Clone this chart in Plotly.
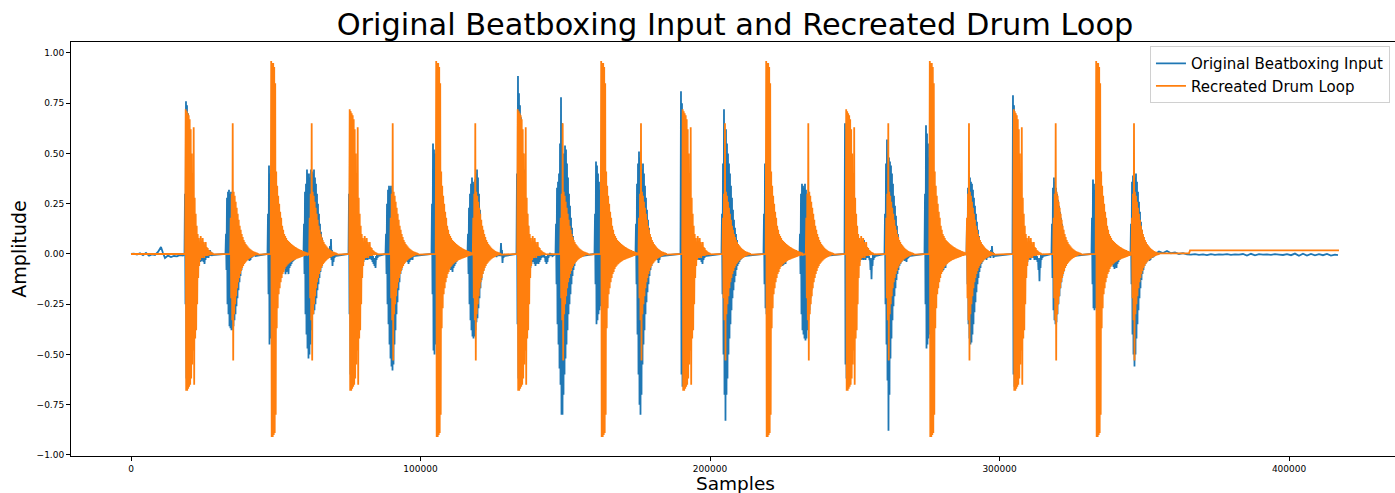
import plotly.graph_objects as go

# ---------------- data (amplitude vs. sample index) ----------------
STEP = 345.4      # samples between successive envelope readings
SILENCE = 0.0     # level of the signal just before each onset

# Recreated drum loop: onsets (samples) of the three drum sounds
KICK_ONSETS = [48430, 105420, 162410, 219400, 275910, 333380]          # big hits
MID_ONSETS = [18890, 75540, 133570, 190560, 247030, 304920]           # double-spike hits
SNARE_ONSETS = [34440, 61720, 89700, 118230, 148420, 175460,
                204480, 233250, 260880, 288750, 318700, 345750]       # thin-spike hits

# envelope readings (top, bottom) of each drum sound, one pair per step
KICK_ENV = [(0.96, -0.91), (0.95, -0.91), (0.95, -0.90), (0.93, -0.89), (0.85, -0.80),
            (0.41, -0.37), (0.34, -0.27), (0.29, -0.20), (0.25, -0.17), (0.21, -0.14),
            (0.18, -0.12), (0.14, -0.10), (0.12, -0.09), (0.10, -0.075), (0.09, -0.065),
            (0.08, -0.058), (0.07, -0.052), (0.065, -0.048), (0.06, -0.043), (0.055, -0.04),
            (0.05, -0.036), (0.046, -0.033), (0.042, -0.03), (0.038, -0.028), (0.035, -0.026),
            (0.032, -0.024), (0.029, -0.022), (0.026, -0.02), (0.023, -0.018), (0.021, -0.016),
            (0.019, -0.014), (0.016, -0.012), (0.014, -0.01), (0.012, -0.009), (0.01, -0.007),
            (0.008, -0.006), (0.006, -0.004)]
MID_ENV = [(0.72, -0.68), (0.71, -0.68), (0.70, -0.67), (0.69, -0.66), (0.67, -0.65),
           (0.62, -0.62), (0.50, -0.55), (0.40, -0.48), (0.63, -0.65), (0.28, -0.42),
           (0.20, -0.38), (0.14, -0.25), (0.10, -0.12), (0.08, -0.06), (0.06, -0.03),
           (0.09, -0.02), (0.05, -0.02), (0.08, -0.01), (0.06, -0.02), (0.04, -0.01),
           (0.06, -0.01), (0.035, -0.01), (0.03, -0.008), (0.02, -0.006), (0.015, -0.005),
           (0.01, -0.004), (0.008, -0.003), (0.005, -0.002)]
SNARE_ENV = [(0.18, -0.22), (0.30, -0.33), (0.65, -0.53), (0.31, -0.30), (0.29, -0.25),
             (0.26, -0.21), (0.23, -0.17), (0.20, -0.14), (0.17, -0.12), (0.14, -0.10),
             (0.12, -0.085), (0.10, -0.07), (0.085, -0.06), (0.07, -0.05), (0.06, -0.043),
             (0.05, -0.037), (0.043, -0.032), (0.037, -0.027), (0.031, -0.023), (0.026, -0.02),
             (0.022, -0.017), (0.018, -0.014), (0.015, -0.011), (0.012, -0.009), (0.01, -0.007),
             (0.008, -0.005), (0.006, -0.004), (0.004, -0.003)]
# quiet end of the drum loop
DRUM_TAIL_X = [355000, 365440, 365790, 417240]
DRUM_TAIL_Y = [0.003, 0.003, 0.018, 0.018]

# Original beatboxing input
BEAT_INTRO_X = [0, 1040, 2070, 3110, 4140, 5180, 6220, 7250, 8290, 9330, 10360,
                11050, 11740, 12780, 13820, 14850, 15890, 16930, 17960]
BEAT_INTRO_Y = [0.0, 0.002, -0.003, 0.004, -0.006, 0.005, -0.008, -0.002, -0.005, 0.01,
                0.035, 0.005, -0.02, -0.008, -0.015, -0.01, -0.012, -0.005, -0.008]

BEAT_ONSETS = [18650, 32810, 47320, 59750, 75300, 88080, 103970, 116400, 133320, 146800,
               160270, 174430, 189970, 204130, 218640, 231070, 246620, 260430, 274250,
               288750, 304640, 318110, 331930, 345400]
BEAT_ENVS = [
    [(0.30, -0.25), (0.76, -0.62), (0.74, -0.66), (0.70, -0.65), (0.62, -0.60), (0.55, -0.55),
     (0.45, -0.45), (0.35, -0.35), (0.25, -0.25), (0.18, -0.18), (0.12, -0.12), (0.08, -0.08),
     (0.05, -0.05), (0.03, -0.04), (0.02, -0.03), (0.01, -0.04), (0.0, -0.035), (0.0, -0.02),
     (0.01, -0.04), (0.0, -0.05), (-0.01, -0.03), (0.01, -0.02), (0.0, -0.015), (0.005, -0.02),
     (0.01, -0.01), (0.02, -0.01), (0.01, -0.01), (0.005, -0.005)],
    [(0.10, -0.08), (0.28, -0.25), (0.31, -0.30), (0.32, -0.36), (0.30, -0.37), (0.31, -0.38),
     (0.29, -0.38), (0.30, -0.36), (0.27, -0.33), (0.25, -0.30), (0.22, -0.26), (0.19, -0.22),
     (0.16, -0.18), (0.13, -0.14), (0.10, -0.11), (0.08, -0.08), (0.06, -0.06), (0.04, -0.045),
     (0.03, -0.04), (0.02, -0.035), (0.01, -0.03), (0.0, -0.02), (-0.005, -0.03), (-0.01, -0.035),
     (-0.01, -0.03), (-0.005, -0.02), (0.0, -0.015), (0.0, -0.01), (0.005, -0.01), (0.0, -0.01)],
    [(0.20, -0.20), (0.44, -0.45), (0.40, -0.42), (0.42, -0.40), (0.38, -0.36), (0.33, -0.32),
     (0.28, -0.28), (0.22, -0.22), (0.17, -0.17), (0.12, -0.13), (0.08, -0.09), (0.05, -0.06),
     (0.03, -0.04), (0.02, -0.03), (0.01, -0.03), (0.0, -0.04), (-0.02, -0.07), (-0.04, -0.10),
     (-0.05, -0.09), (-0.03, -0.08), (-0.04, -0.10), (-0.03, -0.07), (-0.02, -0.06), (-0.02, -0.05),
     (-0.015, -0.04), (-0.01, -0.035), (-0.01, -0.03), (-0.005, -0.02), (-0.005, -0.015),
     (0.0, -0.01), (0.0, -0.005)],
    [(0.15, -0.10), (0.31, -0.30), (0.35, -0.40), (0.42, -0.47), (0.40, -0.52), (0.40, -0.50),
     (0.38, -0.45), (0.42, -0.38), (0.41, -0.30), (0.40, -0.30), (0.42, -0.28), (0.38, -0.25),
     (0.35, -0.22), (0.30, -0.18), (0.25, -0.15), (0.20, -0.12), (0.15, -0.09), (0.11, -0.07),
     (0.08, -0.05), (0.05, -0.04), (0.03, -0.03), (0.02, -0.02), (0.01, -0.02), (0.005, -0.015),
     (0.0, -0.01), (0.01, -0.01), (0.04, -0.02), (0.075, -0.03), (0.02, -0.06), (0.0, -0.04),
     (0.0, -0.02), (0.0, -0.01)],
    [(0.30, -0.30), (0.71, -0.60), (0.68, -0.65), (0.65, -0.62), (0.58, -0.58), (0.50, -0.50),
     (0.42, -0.42), (0.34, -0.36), (0.27, -0.30), (0.20, -0.22), (0.14, -0.15), (0.10, -0.10),
     (0.07, -0.07), (0.05, -0.05), (0.03, -0.04), (0.02, -0.03), (0.01, -0.03), (0.0, -0.025),
     (0.0, -0.03), (0.01, -0.02), (-0.005, -0.025), (0.0, -0.02), (0.0, -0.03), (0.0, -0.04),
     (-0.01, -0.05), (-0.02, -0.06), (-0.02, -0.07), (-0.01, -0.03), (0.0, -0.02), (0.0, -0.01)],
    [(0.10, -0.10), (0.25, -0.25), (0.32, -0.35), (0.34, -0.45), (0.33, -0.52), (0.34, -0.56),
     (0.32, -0.58), (0.30, -0.55), (0.28, -0.45), (0.25, -0.38), (0.22, -0.30), (0.19, -0.24),
     (0.16, -0.18), (0.13, -0.14), (0.10, -0.10), (0.08, -0.08), (0.06, -0.06), (0.04, -0.05),
     (0.03, -0.04), (0.02, -0.03), (0.01, -0.03), (0.0, -0.04), (-0.01, -0.05), (-0.02, -0.04),
     (-0.01, -0.03), (0.0, -0.02), (0.0, -0.03), (0.0, -0.01)],
    [(0.25, -0.20), (0.55, -0.48), (0.52, -0.50), (0.50, -0.45), (0.45, -0.42), (0.40, -0.38),
     (0.34, -0.33), (0.28, -0.28), (0.22, -0.22), (0.17, -0.17), (0.13, -0.13), (0.09, -0.10),
     (0.06, -0.07), (0.04, -0.05), (0.03, -0.04), (0.02, -0.04), (0.01, -0.05), (0.0, -0.06),
     (-0.02, -0.08), (-0.03, -0.07), (-0.04, -0.09), (-0.03, -0.07), (-0.02, -0.06), (-0.02, -0.05),
     (-0.01, -0.04), (-0.01, -0.03), (0.0, -0.02), (0.0, -0.01)],
    [(0.10, -0.10), (0.23, -0.25), (0.30, -0.33), (0.35, -0.38), (0.38, -0.41), (0.36, -0.42),
     (0.35, -0.41), (0.37, -0.38), (0.40, -0.34), (0.42, -0.32), (0.38, -0.27), (0.30, -0.22),
     (0.22, -0.17), (0.16, -0.13), (0.12, -0.10), (0.09, -0.08), (0.06, -0.06), (0.04, -0.05),
     (0.03, -0.04), (0.02, -0.03), (0.01, -0.02), (0.0, -0.02), (-0.005, -0.015), (0.0, -0.01),
     (0.0, -0.015), (0.005, -0.01), (0.0, -0.01), (0.0, -0.01), (0.0, -0.015), (0.0, -0.01),
     (0.0, -0.01), (0.005, -0.005), (0.0, -0.01), (0.055, -0.01), (0.02, -0.045), (0.0, -0.02),
     (0.0, -0.01)],
    [(0.40, -0.35), (0.885, -0.62), (0.80, -0.66), (0.74, -0.65), (0.68, -0.62), (0.60, -0.58),
     (0.50, -0.50), (0.42, -0.43), (0.34, -0.36), (0.27, -0.30), (0.20, -0.22), (0.14, -0.15),
     (0.10, -0.10), (0.07, -0.07), (0.05, -0.05), (0.03, -0.04), (0.02, -0.04), (0.01, -0.05),
     (0.0, -0.06), (-0.01, -0.05), (-0.01, -0.04), (0.0, -0.05), (-0.01, -0.04), (0.0, -0.03),
     (0.0, -0.02), (0.0, -0.015), (0.0, -0.01), (0.0, -0.02), (-0.01, -0.04), (-0.02, -0.05),
     (-0.01, -0.04), (0.0, -0.02), (0.0, -0.01), (0.005, -0.01), (0.0, -0.005), (0.0, -0.01)],
    [(0.15, -0.15), (0.33, -0.35), (0.36, -0.45), (0.40, -0.57), (0.55, -0.65), (0.78, -0.80),
     (0.65, -0.80), (0.50, -0.70), (0.50, -0.60), (0.54, -0.52), (0.52, -0.45), (0.45, -0.38),
     (0.38, -0.30), (0.30, -0.25), (0.24, -0.20), (0.18, -0.15), (0.13, -0.11), (0.09, -0.08),
     (0.06, -0.06), (0.04, -0.04), (0.03, -0.03), (0.02, -0.025), (0.01, -0.02), (0.0, -0.02),
     (0.0, -0.015), (0.0, -0.01)],
    [(0.20, -0.15), (0.46, -0.35), (0.44, -0.33), (0.40, -0.30), (0.36, -0.28), (0.32, -0.26),
     (0.28, -0.24), (0.24, -0.20), (0.20, -0.17), (0.16, -0.14), (0.13, -0.11), (0.10, -0.09),
     (0.08, -0.07), (0.06, -0.06), (0.04, -0.05), (0.03, -0.04), (0.02, -0.035), (0.01, -0.03),
     (0.0, -0.04), (-0.01, -0.05), (-0.02, -0.045), (-0.01, -0.04), (-0.02, -0.05), (-0.01, -0.035),
     (0.0, -0.03), (0.0, -0.02), (0.0, -0.015), (0.0, -0.01)],
    [(0.15, -0.15), (0.35, -0.40), (0.45, -0.60), (0.51, -0.75), (0.48, -0.80), (0.45, -0.70),
     (0.42, -0.55), (0.45, -0.45), (0.40, -0.38), (0.34, -0.30), (0.28, -0.24), (0.22, -0.19),
     (0.17, -0.15), (0.13, -0.11), (0.09, -0.08), (0.06, -0.06), (0.04, -0.045), (0.03, -0.035),
     (0.02, -0.03), (0.01, -0.025), (0.0, -0.02), (0.0, -0.03), (-0.01, -0.045), (-0.005, -0.03),
     (0.0, -0.015), (0.0, -0.01)],
    [(0.81, -0.60), (0.75, -0.66), (0.70, -0.65), (0.64, -0.62), (0.57, -0.58), (0.49, -0.50),
     (0.41, -0.42), (0.33, -0.35), (0.26, -0.28), (0.20, -0.21), (0.14, -0.15), (0.10, -0.10),
     (0.07, -0.07), (0.05, -0.05), (0.03, -0.04), (0.02, -0.03), (0.01, -0.03), (0.0, -0.02),
     (0.005, -0.03), (0.0, -0.02), (0.0, -0.04), (-0.01, -0.05), (0.0, -0.03), (0.0, -0.02),
     (0.0, -0.01)],
    [(0.20, -0.20), (0.45, -0.50), (0.72, -0.70), (0.62, -0.83), (0.62, -0.70), (0.55, -0.62),
     (0.50, -0.50), (0.45, -0.42), (0.40, -0.35), (0.34, -0.28), (0.28, -0.22), (0.22, -0.18),
     (0.17, -0.14), (0.13, -0.11), (0.10, -0.08), (0.07, -0.06), (0.05, -0.05), (0.03, -0.04),
     (0.02, -0.03), (0.01, -0.025), (0.0, -0.02), (0.0, -0.015), (0.0, -0.01)],
    [(0.20, -0.15), (0.45, -0.27), (0.42, -0.30), (0.38, -0.30), (0.33, -0.28), (0.28, -0.25),
     (0.24, -0.22), (0.20, -0.19), (0.16, -0.15), (0.13, -0.12), (0.10, -0.10), (0.08, -0.08),
     (0.06, -0.06), (0.04, -0.05), (0.03, -0.045), (0.02, -0.04), (0.01, -0.045), (0.0, -0.05),
     (-0.01, -0.06), (-0.02, -0.055), (-0.01, -0.04), (-0.02, -0.05), (-0.01, -0.035),
     (0.0, -0.03), (0.0, -0.02), (0.0, -0.015), (0.0, -0.01)],
    [(0.10, -0.10), (0.30, -0.30), (0.35, -0.38), (0.34, -0.40), (0.33, -0.42), (0.35, -0.43),
     (0.32, -0.42), (0.30, -0.38), (0.28, -0.33), (0.30, -0.28), (0.26, -0.22), (0.22, -0.18),
     (0.17, -0.14), (0.13, -0.11), (0.10, -0.08), (0.07, -0.06), (0.05, -0.05), (0.03, -0.04),
     (0.02, -0.03), (0.01, -0.04), (0.0, -0.03), (0.01, -0.02), (0.0, -0.02), (0.0, -0.01)],
    [(0.65, -0.55), (0.62, -0.62), (0.60, -0.62), (0.56, -0.58), (0.50, -0.52), (0.44, -0.46),
     (0.37, -0.40), (0.30, -0.33), (0.24, -0.26), (0.18, -0.20), (0.13, -0.14), (0.09, -0.10),
     (0.06, -0.07), (0.04, -0.05), (0.03, -0.04), (0.02, -0.03), (0.01, -0.03), (0.06, -0.025),
     (0.01, -0.03), (0.07, -0.02), (0.0, -0.03), (0.0, -0.02), (0.0, -0.01), (0.0, -0.02),
     (-0.01, -0.03), (-0.02, -0.08), (-0.03, -0.125), (-0.02, -0.06), (0.0, -0.03), (0.0, -0.02),
     (0.0, -0.01)],
    [(0.20, -0.25), (0.45, -0.45), (0.57, -0.63), (0.50, -0.88), (0.48, -0.70), (0.46, -0.52),
     (0.44, -0.42), (0.40, -0.33), (0.35, -0.26), (0.29, -0.21), (0.24, -0.17), (0.19, -0.13),
     (0.14, -0.10), (0.10, -0.08), (0.07, -0.06), (0.05, -0.05), (0.03, -0.04), (0.02, -0.03),
     (0.01, -0.03), (0.0, -0.035), (0.0, -0.03), (-0.01, -0.04), (0.0, -0.025), (0.0, -0.02),
     (0.0, -0.01)],
    [(0.30, -0.25), (0.64, -0.47), (0.60, -0.45), (0.55, -0.42), (0.48, -0.40), (0.42, -0.38),
     (0.36, -0.34), (0.30, -0.30), (0.25, -0.25), (0.20, -0.20), (0.16, -0.16), (0.12, -0.12),
     (0.09, -0.09), (0.07, -0.07), (0.05, -0.06), (0.03, -0.06), (0.01, -0.07), (-0.01, -0.085),
     (-0.02, -0.08), (-0.01, -0.06), (-0.02, -0.07), (-0.01, -0.05), (0.0, -0.04), (0.0, -0.03),
     (0.0, -0.02), (0.0, -0.015), (0.0, -0.01)],
    [(0.15, -0.15), (0.33, -0.35), (0.40, -0.42), (0.38, -0.45), (0.36, -0.44), (0.35, -0.40),
     (0.32, -0.35), (0.28, -0.29), (0.24, -0.24), (0.20, -0.19), (0.16, -0.15), (0.12, -0.12),
     (0.09, -0.09), (0.06, -0.07), (0.04, -0.05), (0.03, -0.04), (0.02, -0.03), (0.01, -0.025),
     (0.0, -0.02), (0.0, -0.03), (0.0, -0.02), (0.005, -0.015), (0.0, -0.01), (0.0, -0.02),
     (0.02, -0.01), (0.04, -0.005), (0.01, -0.02), (0.0, -0.01)],
    [(0.79, -0.60), (0.74, -0.66), (0.70, -0.65), (0.64, -0.62), (0.56, -0.57), (0.48, -0.50),
     (0.40, -0.42), (0.32, -0.35), (0.25, -0.28), (0.19, -0.21), (0.14, -0.15), (0.10, -0.10),
     (0.07, -0.07), (0.05, -0.05), (0.03, -0.04), (0.02, -0.03), (0.03, -0.02), (0.01, -0.03),
     (0.0, -0.02), (0.02, -0.01), (0.0, -0.02), (0.0, -0.03), (0.0, -0.02), (0.0, -0.03),
     (-0.01, -0.04), (-0.02, -0.08), (-0.03, -0.135), (-0.02, -0.07), (0.0, -0.03), (0.0, -0.02),
     (0.0, -0.01)],
    [(0.15, -0.12), (0.33, -0.28), (0.38, -0.33), (0.36, -0.35), (0.33, -0.34), (0.30, -0.30),
     (0.27, -0.25), (0.24, -0.21), (0.21, -0.17), (0.18, -0.14), (0.15, -0.11), (0.12, -0.09),
     (0.10, -0.07), (0.08, -0.06), (0.06, -0.05), (0.04, -0.04), (0.03, -0.035), (0.02, -0.03),
     (0.01, -0.025), (0.0, -0.02), (0.0, -0.015), (0.0, -0.01)],
    [(0.18, -0.15), (0.37, -0.27), (0.35, -0.28), (0.32, -0.27), (0.28, -0.25), (0.24, -0.22),
     (0.20, -0.19), (0.17, -0.16), (0.14, -0.13), (0.11, -0.11), (0.09, -0.09), (0.07, -0.07),
     (0.05, -0.06), (0.04, -0.05), (0.03, -0.045), (0.02, -0.04), (0.01, -0.045), (0.0, -0.04),
     (0.0, -0.045), (-0.01, -0.05), (-0.01, -0.055), (-0.02, -0.065), (-0.03, -0.075),
     (-0.02, -0.06), (-0.02, -0.07), (-0.01, -0.05), (-0.01, -0.04), (0.0, -0.03), (0.0, -0.02),
     (0.0, -0.015), (0.0, -0.01)],
    [(0.15, -0.15), (0.36, -0.40), (0.39, -0.50), (0.37, -0.56), (0.38, -0.50), (0.40, -0.42),
     (0.36, -0.35), (0.31, -0.28), (0.26, -0.22), (0.21, -0.17), (0.16, -0.13), (0.12, -0.10),
     (0.09, -0.08), (0.06, -0.06), (0.04, -0.05), (0.03, -0.04), (0.02, -0.03), (0.01, -0.03),
     (0.0, -0.035), (0.0, -0.03), (0.005, -0.02), (0.0, -0.02), (0.01, -0.015), (0.0, -0.01)],
]
BEAT_OUTRO_X = [353690, 355070, 356450, 357830, 359220, 360600, 361980, 363360, 364740,
                366120, 367500, 368890, 370270, 371650, 373030, 374410, 375790, 377170,
                378560, 379940, 381320, 382700, 384080, 385460, 386840, 388230, 389610,
                390990, 392370, 393750, 395130, 396510, 397900, 399280, 400660, 402040,
                403420, 404800, 406180, 407570, 408950, 410330, 411710, 413090, 414470,
                415860, 416890]
BEAT_OUTRO_Y = [0.0, 0.012, 0.005, 0.015, 0.004, 0.008, 0.0, 0.004, -0.002, -0.003, -0.001,
                -0.004, -0.002, -0.006, -0.001, -0.004, -0.002, -0.003, -0.001, -0.004, -0.002,
                -0.003, 0.0, -0.008, 0.001, -0.007, -0.001, -0.003, -0.002, -0.004, -0.001,
                -0.003, -0.005, -0.001, -0.006, 0.002, -0.009, 0.001, -0.008, 0.0, -0.007,
                -0.001, -0.006, 0.0, -0.008, -0.003, -0.006]


def burst(onset, env):
    """Expand envelope readings into the up/down swings of the waveform,
    starting from silence just before the onset."""
    xs, ys = [onset - STEP / 2], [SILENCE]
    for i, (top, bottom) in enumerate(env):
        x0 = onset + i * STEP
        xs += [x0, x0 + STEP / 2]
        ys += [top, bottom]
    return xs, ys


# ---- assemble the drum loop ----
drum_events = ([(o, KICK_ENV) for o in KICK_ONSETS] + [(o, MID_ENV) for o in MID_ONSETS]
               + [(o, SNARE_ENV) for o in SNARE_ONSETS])
drum_events.sort(key=lambda e: e[0])
drum_x, drum_y = [0.0], [SILENCE]
for onset, env in drum_events:
    bx, by = burst(onset, env)
    drum_x += bx
    drum_y += by
drum_x += DRUM_TAIL_X
drum_y += DRUM_TAIL_Y

# ---- assemble the beatboxing input ----
beat_x, beat_y = list(BEAT_INTRO_X), list(BEAT_INTRO_Y)
for onset, env in zip(BEAT_ONSETS, BEAT_ENVS):
    bx, by = burst(onset, env)
    beat_x += bx
    beat_y += by
beat_x += BEAT_OUTRO_X
beat_y += BEAT_OUTRO_Y

# ---------------- figure ----------------
BLUE = "#1f77b4"
ORANGE = "#ff7f0e"
FONT = "DejaVu Sans"

fig = go.Figure()
fig.add_trace(go.Scatter(x=beat_x, y=beat_y, mode="lines", name="Original Beatboxing Input",
                         line=dict(color=BLUE, width=1.8, simplify=False)))
fig.add_trace(go.Scatter(x=drum_x, y=drum_y, mode="lines", name="Recreated Drum Loop",
                         line=dict(color=ORANGE, width=1.8, simplify=False)))

fig.update_layout(
    width=1395, height=493,
    margin=dict(l=71, r=0, t=42, b=37),
    paper_bgcolor="white", plot_bgcolor="white",
    font=dict(family=FONT, color="black"),
    title=dict(text="Original Beatboxing Input and Recreated Drum Loop",
               font=dict(family=FONT, size=30.4, color="black"),
               x=735 / 1395, xanchor="center", xref="container",
               y=1 - 24.5 / 493, yanchor="middle", yref="container"),
    showlegend=True,
    legend=dict(x=0.9962, xanchor="right", y=0.99, yanchor="top",
                bgcolor="rgba(255,255,255,0.8)", bordercolor="#d0d0d0", borderwidth=1,
                font=dict(family=FONT, size=15, color="black"), tracegroupgap=0),
    annotations=[dict(text="Samples", xref="paper", yref="paper", x=(735 - 71) / 1324, y=0,
                      xanchor="center", yanchor="middle", yshift=-27.5, showarrow=False,
                      borderpad=0, font=dict(family=FONT, size=18.5, color="black"))],
)
fig.update_xaxes(range=[-20724, 436590], tick0=0, dtick=100000, tickformat="d",
                 showline=True, linecolor="black", linewidth=1, mirror=True,
                 ticks="outside", ticklen=4, tickwidth=1, tickcolor="black",
                 tickfont=dict(family=FONT, size=9, color="black"),
                 showgrid=False, zeroline=False, automargin=False)
fig.update_yaxes(range=[-1.005, 1.0547],
                 tickvals=[-1.0, -0.75, -0.5, -0.25, 0.0, 0.25, 0.5, 0.75, 1.0],
                 tickformat=".2f",
                 showline=True, linecolor="black", linewidth=1, mirror=False,
                 ticks="outside", ticklen=4, tickwidth=1, tickcolor="black",
                 tickfont=dict(family=FONT, size=9, color="black"),
                 showgrid=False, zeroline=False, automargin=False,
                 title=dict(text="Amplitude", font=dict(family=FONT, size=19, color="black"),
                            standoff=4))

fig.write_html("out.html")
